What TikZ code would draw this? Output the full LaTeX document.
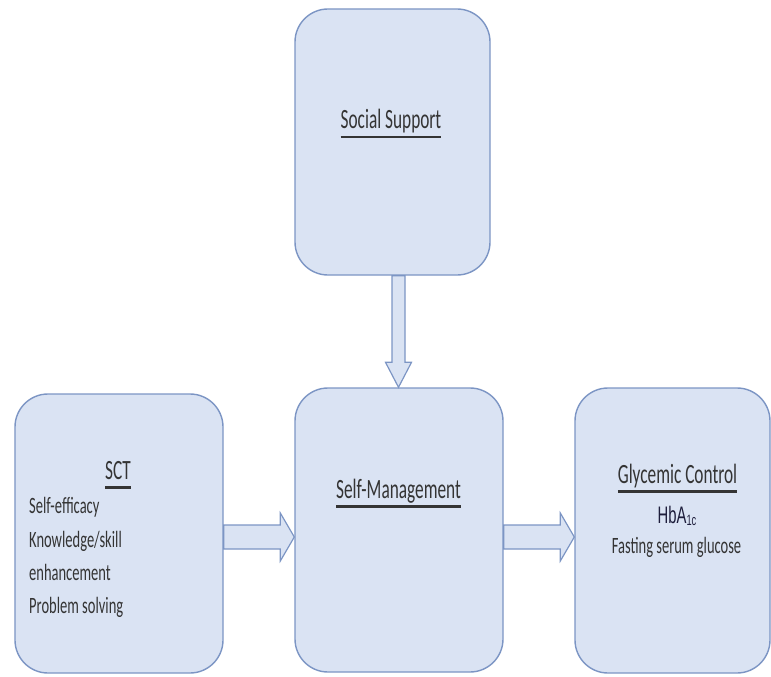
\documentclass[tikz,border=0pt]{standalone}
\usepackage{fontspec}
\setmainfont{Carlito}[FakeStretch=0.62]
\newfontfamily\hbafont{Liberation Sans}[FakeStretch=0.62]
\usetikzlibrary{calc}

\definecolor{boxfill}{RGB}{218,227,243}
\definecolor{boxline}{RGB}{124,149,196}
\definecolor{txt}{RGB}{52,52,52}
\definecolor{hba}{RGB}{30,30,60}

% underlined heading: a rule under the full width of the text
\newcommand\ulhead[1]{\setbox0=\hbox{#1}\rlap{\rule[-9.5bp]{\wd0}{2.5bp}}\box0}

\tikzset{
  box/.style={draw=boxline, fill=boxfill, line width=1.4bp, rounded corners=33bp},
  blockarrow/.style={draw=boxline, fill=boxfill, line width=1.2bp, line join=miter},
  head/.style={font=\fontsize{28}{32}\selectfont, text=txt, inner sep=0pt, anchor=base},
  item/.style={font=\fontsize{23.5}{28}\selectfont, text=txt, inner sep=0pt, anchor=base west},
  itemc/.style={item, anchor=base},
}

\begin{document}
\begin{tikzpicture}[x=1bp, y=-1bp]
\useasboundingbox (0,0) rectangle (771,677);

% boxes
\node[box, minimum width=195bp, minimum height=266bp] (ss)  at (392.5,142) {};
\node[box, minimum width=208bp, minimum height=279bp] (sct) at (119,533.5) {};
\node[box, minimum width=208bp, minimum height=284bp] (sm)  at (399,530) {};
\node[box, minimum width=195bp, minimum height=285bp] (gc)  at (672.5,530.5) {};

% reference lines for the arrows
\coordinate (h) at (0,537);
\coordinate (v) at (398.5,0);

% block arrows
\draw[blockarrow] ($(sct.east|-h)+(0,-12)$) -- ($(sm.west|-h)+(-14,-12)$)
  -- ($(sm.west|-h)+(-14,-24)$) -- (sm.west|-h) -- ($(sm.west|-h)+(-14,24)$)
  -- ($(sm.west|-h)+(-14,12)$) -- ($(sct.east|-h)+(0,12)$) -- cycle;
\draw[blockarrow] ($(sm.east|-h)+(0,-12)$) -- ($(gc.west|-h)+(-14,-12)$)
  -- ($(gc.west|-h)+(-14,-24)$) -- (gc.west|-h) -- ($(gc.west|-h)+(-14,24)$)
  -- ($(gc.west|-h)+(-14,12)$) -- ($(sm.east|-h)+(0,12)$) -- cycle;
\draw[blockarrow] ($(ss.south-|v)+(-6.5,0)$) -- ($(sm.north-|v)+(-6.5,-25)$)
  -- ($(sm.north-|v)+(-13,-25)$) -- (sm.north-|v) -- ($(sm.north-|v)+(13,-25)$)
  -- ($(sm.north-|v)+(6.5,-25)$) -- ($(ss.south-|v)+(6.5,0)$) -- cycle;

% texts
\node[head] (ssT)  at (391,129)   {\ulhead{Social Support}};
\node[head] (sctT) at (118,479)   {\ulhead{SCT}};
\node[item] (i1) at (29,513) {Self-efficacy};
\node[item] (i2) at (29,547) {Knowledge/skill};
\node[item] (i3) at (29,580) {enhancement};
\node[item] (i4) at (29,613) {Problem solving};
\node[head] (smT)  at (398.5,498) {\ulhead{Self-Management}};
\node[head] (gcT)  at (677.5,483) {\ulhead{Glycemic Control}};
\node[anchor=base, inner sep=0pt, text=hba, font=\hbafont\fontsize{24}{28}\selectfont]
  (hb) at (677,523) {HbA\raisebox{-2.5bp}{\fontsize{15}{18}\selectfont 1c}};
\node[itemc] (fsg) at (676.5,553) {Fasting serum glucose};
\end{tikzpicture}
\end{document}
